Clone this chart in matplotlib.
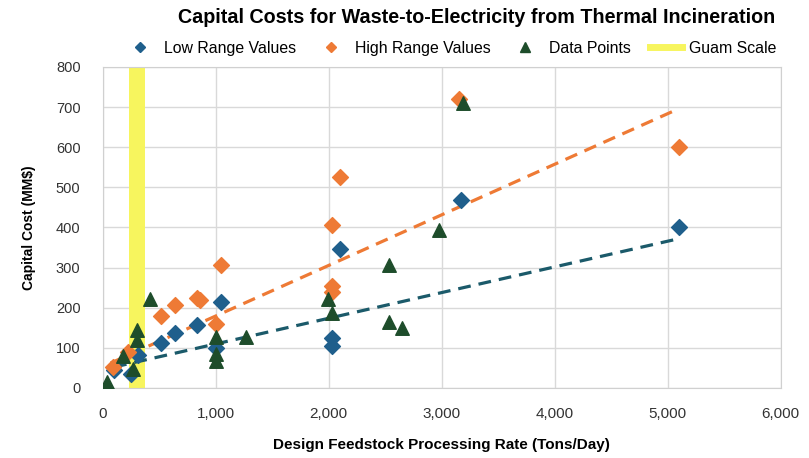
import numpy as np
import matplotlib
matplotlib.use("Agg")
import matplotlib.pyplot as plt
from matplotlib.lines import Line2D

# low range values (tons/day, $MM)
low_x = [100, 250, 310, 520, 640, 830, 1000, 1050, 2030, 2030, 2100, 3170, 5100]
low_y = [45, 35, 82, 112, 137, 157, 100, 214, 125, 105, 347, 469, 400]

# high range values
high_x = [90, 220, 520, 640, 830, 860, 1000, 1050, 2030, 2030, 2030, 2100, 3150, 5100]
high_y = [52, 90, 178, 207, 224, 218, 160, 307, 406, 255, 240, 526, 720, 600]

# data points
pts_x = [40, 180, 265, 300, 300, 420, 1000, 1000, 1000, 1270, 1990, 2030, 2530, 2530, 2650, 2980, 3190]
pts_y = [15, 80, 48, 145, 120, 222, 128, 84, 68, 126, 222, 187, 307, 165, 150, 394, 710]

# guam scale band
guam_x = 300
guam_w = 140
guam_h = 800

# trend line end points
low_trend_x = [100, 5100]
low_trend_y = [52, 372]
high_trend_x = [70, 5100]
high_trend_y = [62, 696]

BLUE = "#1f5f8c"
ORANGE = "#ee7a35"
GREEN = "#1e4d2b"
YELLOW = "#f7f55e"

fnt = ["Liberation Sans", "DejaVu Sans"]

fig = plt.figure(figsize=(8.09, 4.58), dpi=100)
ax = fig.add_axes([0.127, 0.153, 0.838, 0.701])

ax.bar(guam_x, guam_h, width=guam_w, color=YELLOW, zorder=1)
ax.plot(low_trend_x, low_trend_y, ls=(0, (4, 2.5)), color="#1b5a6a", lw=2.3, zorder=2)
ax.plot(high_trend_x, high_trend_y, ls=(0, (4, 2.5)), color=ORANGE, lw=2.3, zorder=2)
ax.scatter(low_x, low_y, marker="D", s=65, color=BLUE, zorder=3)
ax.scatter(high_x, high_y, marker="D", s=65, color=ORANGE, zorder=3)
ax.scatter(pts_x, pts_y, marker="^", s=95, color=GREEN, zorder=4)

ax.set_xlim(0, 6000)
ax.set_ylim(0, 800)
ax.set_xticks(range(0, 6001, 1000))
ax.set_yticks(range(0, 801, 100))
ax.set_xticklabels([f"{v:,}" for v in range(0, 6001, 1000)], family=fnt, fontsize=11)
ax.set_yticklabels([str(v) for v in range(0, 801, 100)], fontsize=10.5, family=fnt)
ax.tick_params(axis="x", length=0, pad=14, colors="#333333")
ax.tick_params(axis="y", length=0, pad=16, colors="#333333")
ax.grid(True, color="#d9d9d9", lw=1)
ax.set_axisbelow(True)
for s in ax.spines.values():
    s.set_color("#d0d0d0")

ax.set_xlabel("Design Feedstock Processing Rate (Tons/Day)", family=fnt,
              fontweight="bold", fontsize=11, labelpad=12)
ax.set_ylabel("Capital Cost (MM$)", family=fnt, fontweight="bold",
              fontsize=10, labelpad=14)
fig.text(0.589, 0.962, "Capital Costs for Waste-to-Electricity from Thermal Incineration",
         family=fnt, fontweight="bold", fontsize=14.2, ha="center", va="center")

handles = [
    Line2D([], [], marker="D", color=BLUE, ls="none", markersize=5),
    Line2D([], [], marker="D", color=ORANGE, ls="none", markersize=5),
    Line2D([], [], marker="^", color=GREEN, ls="none", markersize=7),
    Line2D([], [], color=YELLOW, lw=5),
]
labels = ["Low Range Values", "High Range Values", "Data Points", "Guam Scale"]
fig.legend(handles, labels, ncol=4, frameon=False, loc="center",
           bbox_to_anchor=(0.557, 0.895), prop={"family": fnt, "size": 11.4},
           handlelength=2, columnspacing=1.2, handletextpad=0.5)

fig.savefig("out.png", dpi=100)
